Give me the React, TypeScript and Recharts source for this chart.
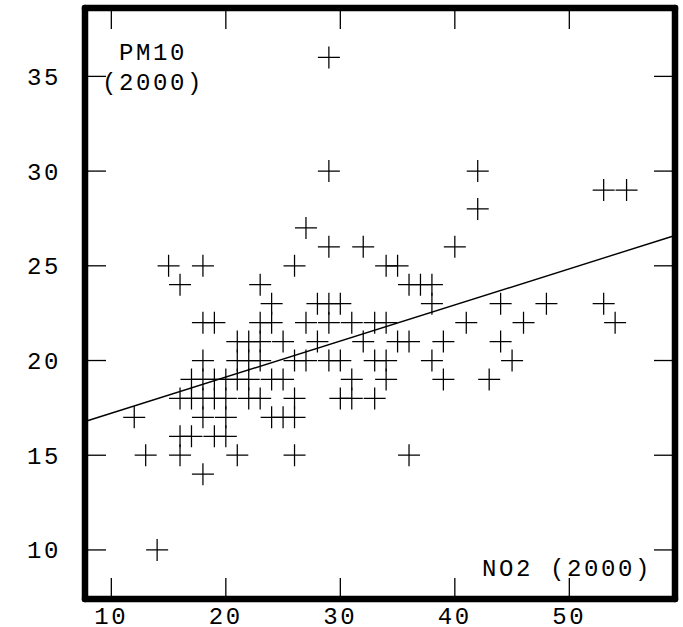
import React from 'react';
import { ScatterChart, Scatter, XAxis, YAxis, ReferenceLine } from 'recharts';

// NO2 (2000) values, grouped by PM10 row
const no2Values = [
  29,
  29, 42,
  53, 55,
  42,
  27,
  29, 32, 40,
  15, 18, 26, 34, 35,
  16, 23, 36, 37, 38,
  24, 28, 29, 30, 38, 44, 48, 53,
  18, 19, 23, 24, 27, 29, 31, 33, 34, 41, 46, 54,
  21, 22, 23, 25, 28, 32, 35, 36, 39, 44,
  18, 21, 22, 23, 26, 27, 29, 30, 33, 34, 38, 45,
  17, 18, 19, 20, 21, 22, 24, 25, 31, 34, 39, 43,
  16, 17, 18, 19, 20, 22, 23, 26, 30, 31, 33,
  12, 18, 20, 24, 25, 26,
  16, 17, 19, 20,
  13, 16, 21, 26, 36,
  18,
  14,
];

// PM10 (2000) values, same order
const pm10Values = [
  36,
  30, 30,
  29, 29,
  28,
  27,
  26, 26, 26,
  25, 25, 25, 25, 25,
  24, 24, 24, 24, 24,
  23, 23, 23, 23, 23, 23, 23, 23,
  22, 22, 22, 22, 22, 22, 22, 22, 22, 22, 22, 22,
  21, 21, 21, 21, 21, 21, 21, 21, 21, 21,
  20, 20, 20, 20, 20, 20, 20, 20, 20, 20, 20, 20,
  19, 19, 19, 19, 19, 19, 19, 19, 19, 19, 19, 19,
  18, 18, 18, 18, 18, 18, 18, 18, 18, 18, 18,
  17, 17, 17, 17, 17, 17,
  16, 16, 16, 16,
  15, 15, 15, 15, 15,
  14,
  10,
];

// regression line end points
const fitX = [7.7, 59.23];
const fitY = [16.78, 26.6];

const xTicks = [10, 20, 30, 40, 50];
const yTicks = [10, 15, 20, 25, 30, 35];

const X_DOMAIN: [number, number] = [7.7, 59.23];
const Y_DOMAIN: [number, number] = [7.41, 38.61];

const data = no2Values.map((x, i) => ({ x, y: pm10Values[i] }));

const FONT = "'Liberation Mono', 'DejaVu Sans Mono', monospace";
const tickStyle = { fill: '#000', fontSize: 24, fontFamily: FONT, letterSpacing: 2.6 };
const thick = { stroke: '#000', strokeWidth: 6.5, strokeLinecap: 'round' as const };
const thin = { stroke: '#000', strokeWidth: 1.3 };

const NoLabel = () => <g />;

const Cross = (props: any) => {
  const { cx, cy } = props;
  if (cx == null || cy == null) return <g />;
  return (
    <path
      d={`M${cx - 11},${cy}h22M${cx},${cy - 11}v22`}
      stroke="#000"
      strokeWidth={1.25}
      fill="none"
    />
  );
};

export default function App() {
  return (
    <div style={{ position: 'absolute', left: 0, top: 0, width: 683, height: 627, background: '#fff' }}>
      <ScatterChart width={683} height={627} margin={{ top: 8, right: 8, bottom: 0, left: 0 }}>
        <XAxis
          xAxisId="b"
          type="number"
          dataKey="x"
          orientation="bottom"
          domain={X_DOMAIN}
          allowDataOverflow
          ticks={xTicks}
          height={28}
          tickLine={false}
          tickSize={0}
          tickMargin={8}
          axisLine={thick}
          tick={tickStyle}
        />
        <XAxis
          xAxisId="bi"
          type="number"
          dataKey="x"
          orientation="bottom"
          mirror
          domain={X_DOMAIN}
          allowDataOverflow
          ticks={xTicks}
          tick={NoLabel}
          tickSize={21}
          tickLine={thin}
          axisLine={false}
        />
        <XAxis
          xAxisId="t"
          type="number"
          dataKey="x"
          orientation="top"
          mirror
          domain={X_DOMAIN}
          allowDataOverflow
          ticks={xTicks}
          tick={NoLabel}
          tickSize={21}
          tickLine={thin}
          axisLine={thick}
        />
        <YAxis
          yAxisId="l"
          type="number"
          dataKey="y"
          orientation="left"
          domain={Y_DOMAIN}
          allowDataOverflow
          ticks={yTicks}
          width={85}
          tickLine={false}
          tickSize={0}
          tickMargin={24}
          axisLine={thick}
          tick={tickStyle}
        />
        <YAxis
          yAxisId="li"
          type="number"
          dataKey="y"
          orientation="left"
          mirror
          domain={Y_DOMAIN}
          allowDataOverflow
          ticks={yTicks}
          tick={NoLabel}
          tickSize={21}
          tickLine={thin}
          axisLine={false}
        />
        <YAxis
          yAxisId="r"
          type="number"
          dataKey="y"
          orientation="right"
          mirror
          domain={Y_DOMAIN}
          allowDataOverflow
          ticks={yTicks}
          tick={NoLabel}
          tickSize={21}
          tickLine={thin}
          axisLine={thick}
        />
        <ReferenceLine
          xAxisId="b"
          yAxisId="l"
          segment={[
            { x: fitX[0], y: fitY[0] },
            { x: fitX[1], y: fitY[1] },
          ]}
          stroke="#000"
          strokeWidth={1.4}
          ifOverflow="visible"
        />
        <Scatter
          xAxisId="b"
          yAxisId="l"
          data={data}
          shape={Cross}
          isAnimationActive={false}
        />
      </ScatterChart>
      <svg
        width={683}
        height={627}
        style={{ position: 'absolute', left: 0, top: 0, pointerEvents: 'none' }}
      >
        <g fontFamily={FONT} fontSize={24} fill="#000" letterSpacing={2.6}>
          <text x={153} y={60} textAnchor="middle">PM10</text>
          <text x={153} y={90} textAnchor="middle">(2000)</text>
          <text x={652} y={576} textAnchor="end">NO2 (2000)</text>
        </g>
      </svg>
    </div>
  );
}
